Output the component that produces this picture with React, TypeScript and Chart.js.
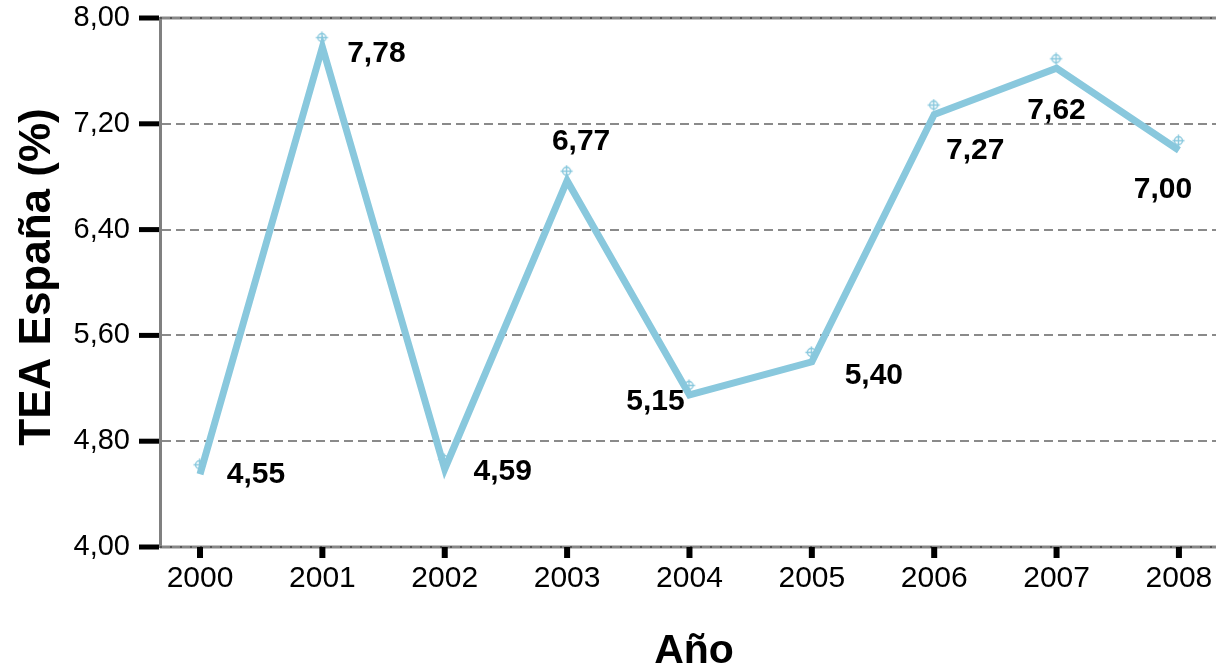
import React, { useEffect, useRef } from 'react';
import { Chart, registerables } from 'chart.js';

Chart.register(...registerables);

const years = ['2000', '2001', '2002', '2003', '2004', '2005', '2006', '2007', '2008'];
const teaValues = [4.55, 7.78, 4.59, 6.77, 5.15, 5.4, 7.27, 7.62, 7.0];
const yTickValues = [4.0, 4.8, 5.6, 6.4, 7.2, 8.0];
const yAxisTitle = 'TEA España (%)';
const xAxisTitle = 'Año';

// label placement offsets (style, pixels relative to each point)
const labelOffsets: [number, number][] = [
  [56, 0], [54, 7], [58, 3], [14, -39], [-34, 7], [62, 14], [41, 36], [0, 42], [-16, 39],
];

const LINE_COLOR = '#89C8DD';
const FONT = '"Liberation Sans", Arial, Helvetica, sans-serif';

const fmt = (v: number) => v.toFixed(2).replace('.', ',');

function makeMarker(color: string): HTMLCanvasElement {
  const c = document.createElement('canvas');
  c.width = 32;
  c.height = 32;
  const g = c.getContext('2d')!;
  g.strokeStyle = color;
  g.lineWidth = 1.4;
  const cx = 15.5;
  const cy = 6.5;
  g.beginPath();
  g.arc(cx, cy, 4, 0, Math.PI * 2);
  g.stroke();
  g.beginPath();
  g.moveTo(cx - 6, cy);
  g.lineTo(cx + 6, cy);
  g.moveTo(cx, cy - 6);
  g.lineTo(cx, cy + 6);
  g.stroke();
  return c;
}

const decorPlugin = {
  id: 'decor',
  afterDraw(chart: any) {
    const { ctx, chartArea } = chart;
    const x = chart.scales.x;
    const y = chart.scales.y;
    ctx.save();
    // top & bottom frame lines
    ctx.strokeStyle = '#888888';
    ctx.lineWidth = 3;
    ctx.beginPath();
    ctx.moveTo(chartArea.left, chartArea.top);
    ctx.lineTo(chartArea.right, chartArea.top);
    ctx.moveTo(chartArea.left, chartArea.bottom);
    ctx.lineTo(chartArea.right, chartArea.bottom);
    ctx.stroke();
    ctx.strokeStyle = '#555555';
    ctx.lineWidth = 2;
    ctx.setLineDash([2, 8]);
    ctx.beginPath();
    ctx.moveTo(chartArea.left, chartArea.top);
    ctx.lineTo(chartArea.right, chartArea.top);
    ctx.moveTo(chartArea.left, chartArea.bottom);
    ctx.lineTo(chartArea.right, chartArea.bottom);
    ctx.stroke();
    ctx.setLineDash([]);

    ctx.fillStyle = '#000';
    yTickValues.forEach((v) => {
      const py = y.getPixelForValue(v);
      ctx.fillRect(chartArea.left - 21, py - 2.5, 20, 5);
    });
    years.forEach((_, i) => {
      const px = x.getPixelForValue(i);
      ctx.fillRect(px - 3, chartArea.bottom, 6, 11);
    });

    ctx.font = `bold 30px ${FONT}`;
    ctx.textAlign = 'center';
    ctx.textBaseline = 'middle';
    ctx.fillStyle = '#000';
    teaValues.forEach((v, i) => {
      const [dx, dy] = labelOffsets[i];
      ctx.fillText(fmt(v), x.getPixelForValue(i) + dx, y.getPixelForValue(v) + dy);
    });

    ctx.font = `bold 44px ${FONT}`;
    ctx.save();
    ctx.translate(38, 277);
    ctx.rotate(-Math.PI / 2);
    ctx.fillText(yAxisTitle, 0, 0);
    ctx.restore();

    ctx.font = `bold 41px ${FONT}`;
    ctx.fillText(xAxisTitle, 694, 652);
    ctx.restore();
  },
};

export default function App() {
  const ref = useRef<HTMLCanvasElement | null>(null);
  useEffect(() => {
    document.body.style.margin = '0';
    const canvas = ref.current!;
    const chart = new Chart(canvas, {
      type: 'line',
      data: {
        datasets: [
          {
            data: teaValues.map((v, i) => ({ x: i, y: v })),
            borderColor: LINE_COLOR,
            backgroundColor: LINE_COLOR,
            borderWidth: 7,
            pointStyle: makeMarker(LINE_COLOR) as any,
            pointRadius: 5,
            tension: 0,
            fill: false,
            clip: 20,
          },
        ],
      },
      options: {
        responsive: false,
        animation: false,
        layout: { autoPadding: false, padding: { top: 18, right: 2, left: 0, bottom: 0 } },
        plugins: { legend: { display: false }, tooltip: { enabled: false } },
        scales: {
          x: {
            type: 'linear',
            min: -0.327,
            max: 8.303,
            afterBuildTicks: (scale: any) => {
              scale.ticks = years.map((_, i) => ({ value: i }));
            },
            afterFit: (scale: any) => {
              scale.height = 125;
              scale.paddingLeft = 0;
              scale.paddingRight = 0;
            },
            grid: { display: false, drawTicks: false },
            border: { display: false },
            ticks: {
              padding: 14,
              color: '#000',
              font: { family: FONT, size: 30 },
              callback: (v: any) => years[Math.round(Number(v))] ?? '',
              maxRotation: 0,
              autoSkip: false,
            },
          },
          y: {
            min: 4,
            max: 8,
            afterBuildTicks: (scale: any) => {
              scale.ticks = yTickValues.map((v) => ({ value: v }));
            },
            afterFit: (scale: any) => {
              scale.width = 160;
              scale.paddingTop = 0;
              scale.paddingBottom = 0;
            },
            grid: {
              color: '#8a8a8a',
              lineWidth: 2,
              drawTicks: false,
            },
            border: {
              display: true,
              color: '#808080',
              width: 3,
              dash: (c: any) => (c.type === 'tick' ? [9, 5] : []),
            },
            ticks: {
              padding: 30,
              color: '#000',
              font: { family: FONT, size: 29 },
              callback: (v: any) => fmt(Number(v)),
              autoSkip: false,
            },
          },
        },
      },
      plugins: [decorPlugin],
    });
    return () => chart.destroy();
  }, []);
  return <canvas ref={ref} width={1218} height={672} style={{ display: 'block' }} />;
}
